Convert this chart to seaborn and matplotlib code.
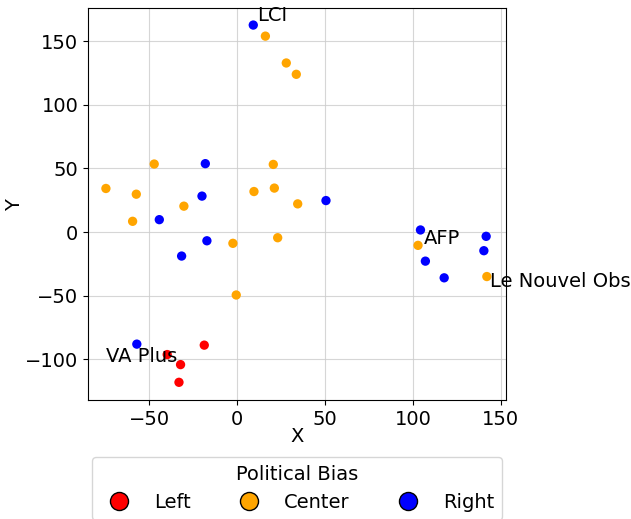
import pandas as pd
import matplotlib
matplotlib.use("Agg")
import matplotlib.pyplot as plt
import seaborn as sns
from matplotlib.lines import Line2D

# ------------------ Daten ------------------
left_x = [-18.8, -39.9, -32.3, -33.2]
left_y = [-88.9, -96.3, -104.2, -118.1]

center_x = [16.0, 27.9, 33.6, -47.3, 20.5, -74.8, -57.5, -30.4, -59.6, 9.5,
            21.1, 34.4, -2.5, 23.0, -0.6, 102.9, 142.1]
center_y = [153.9, 132.8, 123.9, 53.4, 53.1, 34.2, 29.7, 20.3, 8.4, 31.8,
            34.5, 22.1, -8.9, -4.5, -49.5, -10.5, -35.0]

right_x = [9.1, -18.2, -20.1, -44.4, -31.7, -17.3, 50.5, -57.2, 104.3, 141.7,
           140.4, 107.1, 117.8]
right_y = [162.6, 53.7, 28.2, 9.7, -18.9, -6.9, 24.7, -88.1, 1.6, -3.4,
           -14.7, -22.9, -36.0]

bias_labels = ["Left", "Center", "Right"]
bias_colors = ["red", "orange", "blue"]

# Beschriftete Medien (Text-Position)
label_names = ["LCI", "AFP", "Le Nouvel Obs", "VA Plus"]
label_x = [11.4, 106.0, 144.0, -74.6]
label_y = [166.0, -9.5, -43.4, -101.8]

df = pd.DataFrame({
    "X": left_x + center_x + right_x,
    "Y": left_y + center_y + right_y,
    "bias": ["Left"] * len(left_x) + ["Center"] * len(center_x) + ["Right"] * len(right_x),
})

plt.rcParams["font.size"] = 14
fig = plt.figure(figsize=(6.31, 5.19), dpi=100)
ax = fig.add_axes([88 / 631, 1 - 400 / 519, (506 - 88) / 631, (400 - 8) / 519])

sns.scatterplot(data=df, x="X", y="Y", hue="bias", hue_order=bias_labels,
                palette=bias_colors, s=45, linewidth=0, legend=False, ax=ax, zorder=3)

for name, tx, ty in zip(label_names, label_x, label_y):
    ax.text(tx, ty, name, fontsize=14, zorder=4)

ax.set_xlim(-85, 153)
ax.set_ylim(-132, 176)
ax.set_xticks([-50, 0, 50, 100, 150])
ax.set_yticks([-100, -50, 0, 50, 100, 150])
ax.grid(True, color="#cccccc", linewidth=0.8, alpha=0.8)
ax.set_axisbelow(True)
ax.set_xlabel("X", fontsize=14, labelpad=-1)
ax.set_ylabel("Y", fontsize=14)
ax.yaxis.set_label_coords((24 - 88) / 418, (400 - 205) / 392)

handles = [Line2D([0], [0], marker="o", linestyle="", markerfacecolor=c,
                  markeredgecolor="black", markersize=13) for c in bias_colors]
fig.legend(handles, bias_labels, title="Political Bias", ncol=3,
           loc="upper center", bbox_to_anchor=(297 / 631, 1 - 447 / 519),
           fontsize=14, title_fontsize=14, handletextpad=0.8, columnspacing=2.0)

fig.savefig("out.png", dpi=100)
